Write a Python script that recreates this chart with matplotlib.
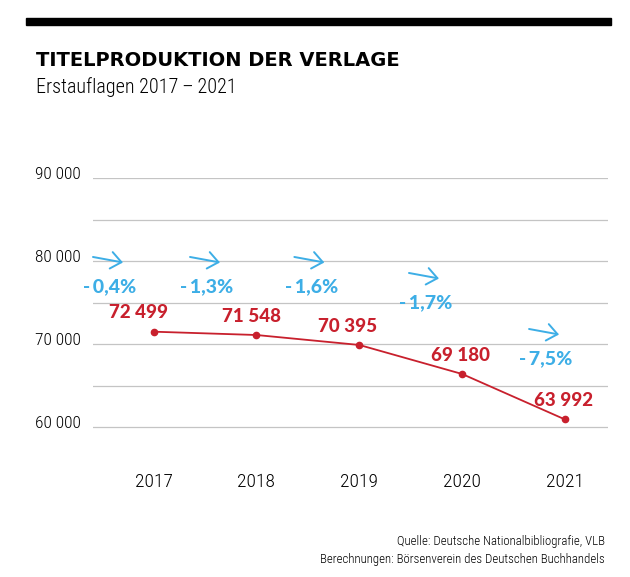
import matplotlib
matplotlib.use("Agg")
import matplotlib.pyplot as plt
import matplotlib.transforms as mtransforms
from matplotlib import font_manager

# Daten
jahre = ["2017", "2018", "2019", "2020", "2021"]
erstauflagen = [72499, 71548, 70395, 69180, 63992]
# Lage der Punkte (die Grafik ist nicht massstabsgetreu)
kurve = [71520, 71120, 69920, 66420, 60940]
veraenderung = ["-0,4%", "-1,3%", "-1,6%", "-1,7%", "-7,5%"]
y_ticks = [60000, 65000, 70000, 75000, 80000, 85000, 90000]
y_labels = ["60 000", "", "70 000", "", "80 000", "", "90 000"]

ROT = "#C8202D"
BLAU = "#3DAEE6"
GRAU = "#C4C4C4"

names = {f.name for f in font_manager.fontManager.ttflist}


def pick(*cands):
    for c in cands:
        if c in names:
            return c
    return "DejaVu Sans"


narrow = pick("Roboto Condensed", "Liberation Sans Narrow", "Open Sans Condensed", "DejaVu Sans")
bold = pick("Lato", "Open Sans", "Roboto", "DejaVu Sans")
titel = "DejaVu Sans"

fig = plt.figure(figsize=(6.3, 5.77), dpi=100)
W, H = 630, 577

# schwarzer Balken oben
fig.patches.append(plt.Rectangle((26 / W, 1 - 25 / H), 585 / W, 7 / H,
                                 transform=fig.transFigure, color="black", zorder=5))

fig.text(36 / W, 1 - 66 / H, "TITELPRODUKTION DER VERLAGE", family=titel,
         fontweight="bold", fontsize=14, va="baseline", ha="left")
fig.text(36 / W, 1 - 93 / H, "Erstauflagen 2017\u2009–\u20092021", family=narrow,
         fontweight="light", fontsize=14.5, va="baseline", ha="left")

# Achse: 90 000 bei y=178 px, 60 000 bei y=427 px
ax = fig.add_axes([93 / W, 1 - 435.6 / H, 515 / W, (435.6 - 178.3) / H])
x = list(range(len(jahre)))
ax.set_xlim(-0.588, 4.417)
ax.set_ylim(59000, 90000)

ax.set_yticks(y_ticks)
ax.set_yticklabels(y_labels, family=narrow, fontweight="light", fontsize=12.5)
ax.set_xticks(x)
ax.set_xticklabels(jahre, family=narrow, fontweight="light", fontsize=14)
ax.tick_params(axis="both", length=0)
ax.tick_params(axis="x", pad=27)
ax.tick_params(axis="y", pad=9)
shift = mtransforms.ScaledTranslation(0, 5 / 100, fig.dpi_scale_trans)
for lab in ax.get_yticklabels():
    lab.set_transform(lab.get_transform() + shift)
for s in ax.spines.values():
    s.set_visible(False)
ax.grid(axis="y", color=GRAU, linewidth=0.9)
ax.set_axisbelow(True)

ax.plot(x, kurve, color=ROT, linewidth=1.3, marker="o", markersize=4.5, zorder=3)
lab_dx = [-15, -5, -12, -2, -2]   # Pixel
for xi, yi, v, dx in zip(x, kurve, erstauflagen, lab_dx):
    txt = f"{v:,}".replace(",", " ")
    ax.annotate(txt, (xi, yi), xytext=(dx * 0.72, 13.5), textcoords="offset points",
                ha="center", va="center", color=ROT, family=bold,
                fontweight="black", fontsize=13.5, annotation_clip=False)

# Veraenderungen mit Pfeilen
px_x = 102.9   # Pixel je Jahr
px_y = 120.5   # Werte je Pixel
pct_pos = [(-0.423, 76906), (0.520, 76906), (1.534, 76906), (2.648, 74978), (3.815, 68230)]
for (tx, ty), t in zip(pct_pos, veraenderung):
    ax.text(tx, ty, t.replace("-", "-\u2009"), ha="center", va="center", color=BLAU,
            family=[bold, "DejaVu Sans"], fontweight="black", fontsize=14, clip_on=False)
    ax.annotate("", xy=(tx + 13 / px_x, ty + 24.5 * px_y),
                xytext=(tx - 17 / px_x, ty + 30 * px_y),
                arrowprops=dict(arrowstyle="->,head_length=0.75,head_width=0.6",
                                color=BLAU, lw=1.4, mutation_scale=10,
                                shrinkA=0, shrinkB=0),
                annotation_clip=False)

fig.text(605 / W, 1 - 542 / H, "Quelle: Deutsche Nationalbibliografie, VLB",
         family=narrow, fontweight="light", fontsize=9.3, ha="right", va="center")
fig.text(605 / W, 1 - 560 / H, "Berechnungen: Börsenverein des Deutschen Buchhandels",
         family=narrow, fontweight="light", fontsize=9.3, ha="right", va="center")

fig.savefig("out.png", dpi=100)
